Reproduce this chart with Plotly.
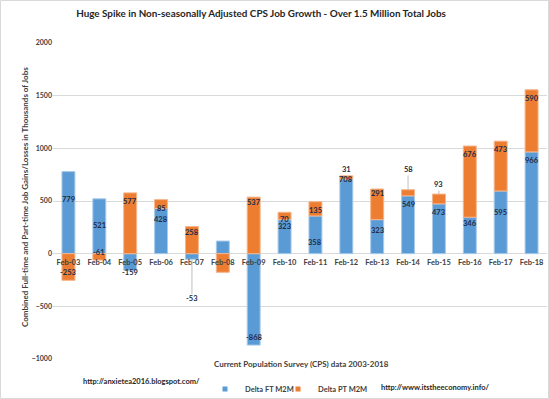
import plotly.graph_objects as go

# ---- data ----
categories = ["Feb-03", "Feb-04", "Feb-05", "Feb-06", "Feb-07", "Feb-08", "Feb-09", "Feb-10",
              "Feb-11", "Feb-12", "Feb-13", "Feb-14", "Feb-15", "Feb-16", "Feb-17", "Feb-18"]
delta_ft = [779, 521, -159, 428, -53, 120, -868, 323, 358, 708, 323, 549, 473, 346, 595, 966]
delta_pt = [-253, -61, 577, 85, 258, -177, 537, 70, 135, 31, 291, 58, 93, 676, 473, 590]
# whether a data label is shown (Feb-08 has none)
show_label = [True, True, True, True, True, False, True, True, True, True, True, True, True, True, True, True]
# where each data label sits on the value axis (as placed in the reference)
ft_label_at = [511, 267, -181, 327, -425, None, -796, 262, 105, 700, 219, 464, 390, 283, 390, 883]
pt_label_at = [-181, 13, 495, 432, 200, None, 486, 322, 410, 797, 575, 797, 654, 943, 987, 1473]
y_ticks = [-1000, -500, 0, 500, 1000, 1500, 2000]

title = "Huge Spike in Non-seasonally Adjusted CPS Job Growth - Over 1.5 Million Total Jobs"
y_title = "Combined Full-time and Part-time Job Gains/Losses in Thousands of Jobs"
x_title = "Current Population Survey (CPS) data 2003-2018"
left_note = "http://anxietea2016.blogspot.com/"
right_note = "http://www.itstheeconomy.info/"
series_names = ["Delta FT M2M", "Delta PT M2M"]

BLUE = "#5B9BD5"
ORANGE = "#ED7D31"
LABEL = "#232b45"
GRID = "#d9d9d9"
FONT = "Lato"

W, H = 549, 399
L, R, T, B = 53, 2, 43, 40
PW, PH = W - L - R, H - T - B


def px(x):
    return (x - L) / PW


def py(y):
    return (H - B - y) / PH


fig = go.Figure()
fig.add_trace(go.Bar(x=categories, y=delta_ft, name=series_names[0], showlegend=False,
                     marker=dict(color=BLUE, line=dict(color="#a9cbea", width=1))))
fig.add_trace(go.Bar(x=categories, y=delta_pt, name=series_names[1], showlegend=False,
                     marker=dict(color=ORANGE, line=dict(color="#f5b58c", width=1))))
# legend entries with small square keys
fig.add_trace(go.Scatter(x=[None], y=[None], mode="markers", name=series_names[0], legend="legend",
                         marker=dict(symbol="square", size=5, color=BLUE)))
fig.add_trace(go.Scatter(x=[None], y=[None], mode="markers", name=series_names[1], legend="legend2",
                         marker=dict(symbol="square", size=5, color=ORANGE)))

annotations = []
shapes = []
lab_font = dict(family=FONT, size=7.5, color=LABEL, weight="bold")
for i, c in enumerate(categories):
    if not show_label[i]:
        continue
    annotations.append(dict(x=c, y=ft_label_at[i], xref="x", yref="y", text=str(delta_ft[i]),
                            showarrow=False, font=lab_font))
    annotations.append(dict(x=c, y=pt_label_at[i], xref="x", yref="y", text=str(delta_pt[i]),
                            showarrow=False, font=lab_font))
    # leader lines for labels dragged away from their bar
    top = max(delta_ft[i], 0) + max(delta_pt[i], 0)
    bottom = min(delta_ft[i], 0) + min(delta_pt[i], 0)
    if ft_label_at[i] < bottom - 150:
        shapes.append(dict(type="line", xref="x", yref="y", x0=c, x1=c, y0=bottom,
                           y1=ft_label_at[i] + 40, line=dict(color="#bfbfbf", width=1)))
    if pt_label_at[i] > top + 30 and delta_pt[i] > 40 and delta_pt[i] < 100:
        shapes.append(dict(type="line", xref="x", yref="y", x0=c, x1=c, y0=top,
                           y1=pt_label_at[i] - 55, line=dict(color="#bfbfbf", width=1)))

annotations += [
    dict(text=y_title, x=px(18), y=py(197), xref="paper", yref="paper", textangle=-90,
         showarrow=False, font=dict(family=FONT, size=8, color="#404040", weight="bold")),
    dict(text=x_title, x=px(301), y=py(371), xref="paper", yref="paper",
         showarrow=False, font=dict(family=FONT, size=8, color="#404040", weight="bold")),
    dict(text=left_note, x=px(81), y=py(388), xref="paper", yref="paper",
         showarrow=False, font=dict(family=FONT, size=7.5, color="#262626", weight="bold")),
    dict(text=right_note, x=px(492), y=py(394), xref="paper", yref="paper",
         showarrow=False, font=dict(family=FONT, size=7.5, color="#262626", weight="bold")),
]

shapes.append(dict(type="rect", xref="paper", yref="paper", x0=px(0.5), x1=px(548.5),
                   y0=py(398.5), y1=py(0.5), line=dict(color=GRID, width=1), layer="below"))

legend_style = dict(orientation="h", yanchor="middle", xanchor="left", y=py(389),
                    font=dict(family=FONT, size=7.5, color="#404040", weight="bold"),
                    bgcolor="rgba(0,0,0,0)", itemwidth=30)

fig.update_layout(
    width=W, height=H,
    margin=dict(l=L, r=R, t=T, b=B, autoexpand=False),
    paper_bgcolor="white", plot_bgcolor="white",
    barmode="relative", bargap=0.58,
    title=dict(text=title, x=261 / W, y=1 - 14 / H, xanchor="center", yanchor="middle",
               xref="container", yref="container",
               font=dict(family=FONT, size=9.9, color="#262626", weight="bold")),
    xaxis=dict(type="category", anchor="free", position=1 / 3, showgrid=False, automargin=False,
               showline=False, ticks="outside", ticklen=1, tickcolor="rgba(0,0,0,0)",
               tickfont=dict(family=FONT, size=7.5, color="#404040", weight="bold")),
    yaxis=dict(range=[-1000, 2000], tickvals=y_ticks, showgrid=True, gridcolor=GRID, gridwidth=1,
               automargin=False,
               zeroline=True, zerolinecolor=GRID, zerolinewidth=1, showline=False, ticks="",
               tickfont=dict(family=FONT, size=7, color="#404040", weight="bold")),
    legend=dict(x=px(205), **legend_style),
    legend2=dict(x=px(278), **legend_style),
    annotations=annotations,
    shapes=shapes,
)

fig.write_html("out.html", config={"displayModeBar": False},
               post_script="document.body.style.margin='0';document.body.style.overflow='hidden';")
